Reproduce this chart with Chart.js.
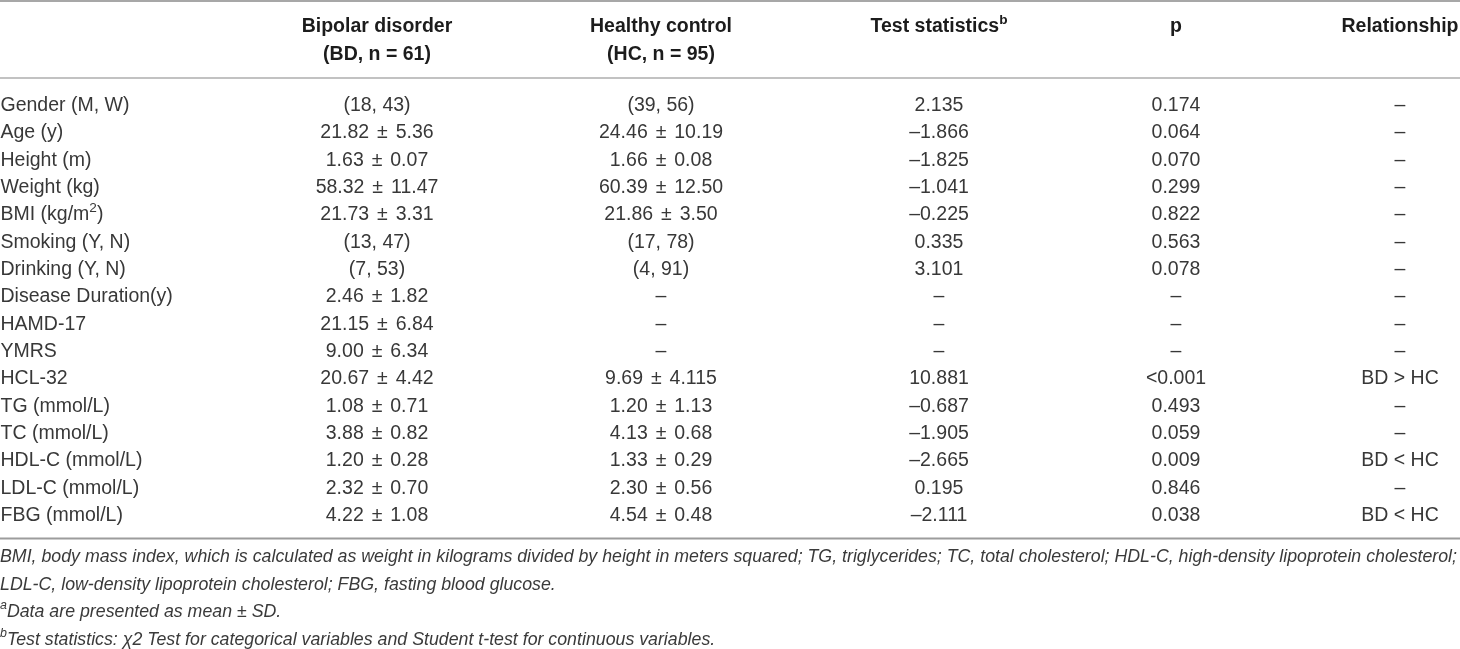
<!DOCTYPE html>
<html>
<head>
<meta charset="utf-8">
<script src="https://cdn.jsdelivr.net/npm/chart.js@4.4.0/dist/chart.umd.min.js"></script>
<style>
  html, body { margin: 0; padding: 0; background: #fff; }
  #wrap { width: 1460px; height: 649px; position: relative; }
</style>
</head>
<body>
<div id="wrap"><canvas id="table"></canvas></div>
<script>
// ---- table content ----
const rowLabels = [
  "Gender (M, W)", "Age (y)", "Height (m)", "Weight (kg)", "BMI (kg/m^2)",
  "Smoking (Y, N)", "Drinking (Y, N)", "Disease Duration(y)", "HAMD-17", "YMRS",
  "HCL-32", "TG (mmol/L)", "TC (mmol/L)", "HDL-C (mmol/L)", "LDL-C (mmol/L)", "FBG (mmol/L)"
];
const bdValues = [
  "(18, 43)", "21.82 ± 5.36", "1.63 ± 0.07", "58.32 ± 11.47", "21.73 ± 3.31",
  "(13, 47)", "(7, 53)", "2.46 ± 1.82", "21.15 ± 6.84", "9.00 ± 6.34",
  "20.67 ± 4.42", "1.08 ± 0.71", "3.88 ± 0.82", "1.20 ± 0.28", "2.32 ± 0.70", "4.22 ± 1.08"
];
const hcValues = [
  "(39, 56)", "24.46 ± 10.19", "1.66 ± 0.08", "60.39 ± 12.50", "21.86 ± 3.50",
  "(17, 78)", "(4, 91)", "–", "–", "–",
  "9.69 ± 4.115", "1.20 ± 1.13", "4.13 ± 0.68", "1.33 ± 0.29", "2.30 ± 0.56", "4.54 ± 0.48"
];
const testStats = [
  "2.135", "–1.866", "–1.825", "–1.041", "–0.225",
  "0.335", "3.101", "–", "–", "–",
  "10.881", "–0.687", "–1.905", "–2.665", "0.195", "–2.111"
];
const pValues = [
  "0.174", "0.064", "0.070", "0.299", "0.822",
  "0.563", "0.078", "–", "–", "–",
  "<0.001", "0.493", "0.059", "0.009", "0.846", "0.038"
];
const relationships = [
  "–", "–", "–", "–", "–",
  "–", "–", "–", "–", "–",
  "BD > HC", "–", "–", "BD < HC", "–", "BD < HC"
];
const headerTop = ["Bipolar disorder", "Healthy control", "Test statistics^b", "p", "Relationship"];
const headerBottom = ["(BD, n = 61)", "(HC, n = 95)"];
const footnotes = [
  "BMI, body mass index, which is calculated as weight in kilograms divided by height in meters squared; TG, triglycerides; TC, total cholesterol; HDL-C, high-density lipoprotein cholesterol;",
  "LDL-C, low-density lipoprotein cholesterol; FBG, fasting blood glucose.",
  "^aData are presented as mean ± SD.",
  "^bTest statistics: χ2 Test for categorical variables and Student t-test for continuous variables."
];

// ---- layout ----
const W = 1460, H = 649;
const colX = [0.5, 377, 661, 939, 1176, 1400];
const ROW0 = 105.5, ROW_H = 27.35;           // first body row centre, row pitch
const rowAt = px => (px - ROW0) / ROW_H;      // pixel -> row units
const headerRows = [rowAt(27), rowAt(55)];
const footRows = [rowAt(557), rowAt(584.5), rowAt(612), rowAt(639.5)];
const rules = [
  { y: rowAt(1), color: "#8a8a8a", width: 1.6 },
  { y: rowAt(78), color: "#c2c2c2", width: 2 },
  { y: rowAt(538.5), color: "#9c9c9c", width: 2 }
];

const FAMILY = '"Liberation Sans", Arial, Helvetica, sans-serif';
const bodyStyle = { size: 19.5, weight: "normal", style: "normal", color: "#383838", family: FAMILY, pmPad: 2.5 };
const headStyle = { size: 19.5, weight: "bold", style: "normal", color: "#1c1c1c", family: FAMILY };
const footStyle = { size: 19, weight: "normal", style: "italic", color: "#3a3a3a", family: FAMILY };

// footnotes are set condensed: squeeze so the first line spans the width
(function () {
  const c = document.createElement("canvas").getContext("2d");
  c.font = `italic normal ${footStyle.size}px ${FAMILY}`;
  footStyle.squeeze = 1457 / c.measureText(footnotes[0]).width;
})();

// split "text^x" into runs, the char after ^ is a superscript;
// " ± " gets a little extra air like the typeset original
function runs(str, pad) {
  const out = [];
  let buf = "";
  const flush = () => {
    if (!buf) return;
    const bits = pad ? buf.split(" ± ") : [buf];
    bits.forEach((b, k) => {
      if (k > 0) out.push({ t: " ± ", sup: false, pad: pad });
      if (b) out.push({ t: b, sup: false, pad: 0 });
    });
    buf = "";
  };
  for (let i = 0; i < str.length; i++) {
    if (str[i] === "^" && i + 1 < str.length) {
      flush();
      out.push({ t: str[i + 1], sup: true, pad: 0 });
      i++;
    } else buf += str[i];
  }
  flush();
  return out;
}

function drawRich(ctx, str, x, y, align, st) {
  const ps = runs(str, st.pmPad || 0);
  const fontOf = p => `${st.style} ${st.weight} ${p.sup ? st.size * 0.7 : st.size}px ${st.family}`;
  let w = 0;
  ps.forEach(p => {
    ctx.font = fontOf(p);
    p.w = ctx.measureText(p.t).width + 2 * p.pad;
    w += p.w;
  });
  ctx.save();
  ctx.translate(x, y);
  ctx.scale(st.squeeze || 1, 1);
  ctx.fillStyle = st.color;
  ctx.textAlign = "left";
  ctx.textBaseline = "middle";
  let cx = align === "center" ? -w / 2 : 0;
  ps.forEach(p => {
    ctx.font = fontOf(p);
    ctx.fillText(p.t, cx + p.pad, p.sup ? -st.size * 0.34 : 0);
    cx += p.w;
  });
  ctx.restore();
}

// text cells: each dataset holds invisible points placed by the scales
function textSet(texts, xs, ys, align, st) {
  return {
    data: texts.map((t, i) => ({ x: xs[i], y: ys[i] })),
    texts: texts, align: align, textStyle: st,
    pointRadius: 0, pointHoverRadius: 0, showLine: false
  };
}
const bodyCols = [rowLabels, bdValues, hcValues, testStats, pValues, relationships];
const rowIdx = rowLabels.map((_, i) => i);

const datasets = [];
rules.forEach(r => datasets.push({
  data: [{ x: 0, y: r.y }, { x: W, y: r.y }],
  showLine: true, borderColor: r.color, borderWidth: r.width,
  pointRadius: 0, pointHoverRadius: 0
}));
bodyCols.forEach((col, c) => {
  datasets.push(textSet(col, col.map(() => colX[c]), rowIdx, c === 0 ? "left" : "center", bodyStyle));
});
datasets.push(textSet(headerTop, colX.slice(1), headerTop.map(() => headerRows[0]), "center", headStyle));
datasets.push(textSet(headerBottom, colX.slice(1, 3), headerBottom.map(() => headerRows[1]), "center", headStyle));
datasets.push(textSet(footnotes, footnotes.map(() => 0), footRows, "left", footStyle));

const cellText = {
  id: "cellText",
  afterDatasetsDraw(chart) {
    const ctx = chart.ctx;
    chart.data.datasets.forEach((ds, di) => {
      if (!ds.texts) return;
      chart.getDatasetMeta(di).data.forEach((pt, i) => {
        drawRich(ctx, ds.texts[i], pt.x, pt.y, ds.align, ds.textStyle);
      });
    });
  }
};

new Chart(document.getElementById("table"), {
  type: "scatter",
  data: { datasets: datasets },
  plugins: [cellText],
  options: {
    responsive: true,
    maintainAspectRatio: false,
    animation: false,
    events: [],
    layout: { padding: 0 },
    plugins: { legend: { display: false }, tooltip: { enabled: false } },
    scales: {
      x: { type: "linear", display: false, min: 0, max: W },
      y: { type: "linear", display: false, reverse: true, min: rowAt(0), max: rowAt(H) }
    }
  }
});
</script>
</body>
</html>
